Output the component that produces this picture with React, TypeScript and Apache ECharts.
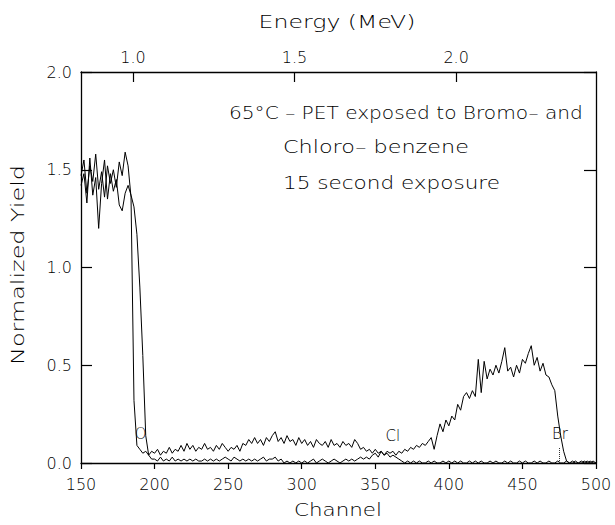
import React, { useEffect, useRef } from "react";
import * as echarts from "echarts";

// ---- data ----
const CHANNEL_START = 150;
const CHANNEL_STEP = 2;

// Upper spectrum (shows Cl and Br signals), channels 150..500 step 2
const yieldUpper = [
  1.47, 1.55, 1.38, 1.52, 1.44, 1.58, 1.40, 1.49, 1.36, 1.52,
  1.43, 1.50, 1.41, 1.54, 1.47, 1.59, 1.52, 1.36, 0.32, 0.09,
  0.07, 0.05, 0.06, 0.04, 0.06, 0.05, 0.07, 0.04, 0.06, 0.05,
  0.08, 0.05, 0.07, 0.06, 0.09, 0.06, 0.10, 0.07, 0.09, 0.06,
  0.08, 0.07, 0.10, 0.07, 0.08, 0.06, 0.09, 0.07, 0.10, 0.08,
  0.06, 0.08, 0.07, 0.09, 0.06, 0.10, 0.09, 0.12, 0.10, 0.13,
  0.10, 0.12, 0.09, 0.13, 0.11, 0.14, 0.16, 0.11, 0.13, 0.10,
  0.14, 0.11, 0.12, 0.09, 0.13, 0.10, 0.12, 0.09, 0.11, 0.08,
  0.12, 0.10, 0.09, 0.11, 0.08, 0.12, 0.09, 0.10, 0.08, 0.11,
  0.09, 0.10, 0.08, 0.12, 0.10, 0.07, 0.08, 0.06, 0.07, 0.05,
  0.07, 0.05, 0.06, 0.04, 0.06, 0.05, 0.06, 0.04, 0.06, 0.05,
  0.07, 0.06, 0.08, 0.07, 0.09, 0.08, 0.10, 0.09, 0.11, 0.13,
  0.07, 0.14, 0.20, 0.16, 0.22, 0.19, 0.24, 0.22, 0.30, 0.27,
  0.34, 0.36, 0.33, 0.37, 0.34, 0.53, 0.36, 0.52, 0.43, 0.48,
  0.45, 0.50, 0.46, 0.52, 0.59, 0.47, 0.49, 0.44, 0.50, 0.46,
  0.53, 0.51, 0.56, 0.60, 0.50, 0.54, 0.47, 0.51, 0.45, 0.44,
  0.40, 0.37, 0.24, 0.14, 0.06, 0.01, 0.00, 0.01, 0.00, 0.00,
  0.01, 0.00, 0.01, 0.00, 0.01, 0.00,
];

// Lower spectrum, channels 150..500 step 2
const yieldLower = [
  1.42, 1.48, 1.33, 1.56, 1.37, 1.46, 1.20, 1.43, 1.55, 1.35,
  1.48, 1.39, 1.45, 1.32, 1.29, 1.38, 1.42, 1.37, 1.31, 1.17,
  0.90, 0.55, 0.14, 0.04, 0.02, 0.02, 0.01, 0.03, 0.01, 0.02,
  0.01, 0.03, 0.01, 0.02, 0.01, 0.02, 0.01, 0.02, 0.01, 0.02,
  0.01, 0.01, 0.02, 0.01, 0.02, 0.01, 0.02, 0.01, 0.02, 0.03,
  0.02, 0.01, 0.03, 0.02, 0.01, 0.02, 0.01, 0.02, 0.01, 0.02,
  0.01, 0.02, 0.03, 0.01, 0.02, 0.02, 0.03, 0.01, 0.02, 0.00,
  0.01, 0.00, 0.01, 0.00, 0.01, 0.00, 0.01, 0.00, 0.01, 0.02,
  0.00, 0.01, 0.02, 0.01, 0.00, 0.01, 0.02, 0.01, 0.00, 0.01,
  0.02, 0.01, 0.02, 0.01, 0.02, 0.03, 0.02, 0.03, 0.02, 0.04,
  0.05, 0.03, 0.06, 0.04, 0.05, 0.03, 0.04, 0.03, 0.02, 0.01,
  0.00, 0.01, 0.00, 0.01, 0.00, 0.01, 0.00, 0.00, 0.01, 0.00,
  0.01, 0.00, 0.00, 0.01, 0.00, 0.01, 0.00, 0.01, 0.00, 0.01,
  0.00, 0.00, 0.01, 0.00, 0.01, 0.00, 0.01, 0.00, 0.00, 0.01,
  0.00, 0.01, 0.00, 0.00, 0.01, 0.00, 0.01, 0.00, 0.00, 0.01,
  0.00, 0.01, 0.00, 0.00, 0.01, 0.00, 0.01, 0.00, 0.00, 0.01,
  0.00, 0.00, 0.01, 0.00, 0.00, 0.01, 0.00, 0.00, 0.01, 0.00,
  0.00, 0.01, 0.00, 0.01, 0.00, 0.00,
];

const CHANNEL_MIN = 150;
const CHANNEL_MAX = 500;
const YIELD_MIN = 0;
const YIELD_MAX = 2;
const ENERGY_MIN = 0.839;
const ENERGY_MAX = 2.433;
const energyTicks = [1.0, 1.5, 2.0];

const peakLabels = [
  { name: "O", channel: 190.6, y: 0.15 },
  { name: "Cl", channel: 362, y: 0.14 },
  { name: "Br", channel: 475.5, y: 0.15 },
];
const brEdgeChannel = 475;
const brEdgeTop = 0.08;

const titleLines = [
  "65°C – PET exposed to Bromo– and",
  "Chloro– benzene",
  "15 second exposure",
];

const FONT = '"DejaVu Sans", "Liberation Sans", sans-serif';
const WEIGHT = 300;
const INK = "#000";

function stretchFor(text: string, size: number, target: number): number {
  const ctx = document.createElement("canvas").getContext("2d");
  if (!ctx) return 1;
  ctx.font = `${WEIGHT} ${size}px "DejaVu Sans"`;
  const w = ctx.measureText(text).width;
  return w > 0 ? target / w : 1;
}

export default function App() {
  const ref = useRef<HTMLDivElement>(null);

  useEffect(() => {
    if (!ref.current) return;
    const chart = echarts.init(ref.current, null, { renderer: "svg" });

    const toPairs = (arr: number[]) =>
      arr.map((v, i) => [CHANNEL_START + i * CHANNEL_STEP, v]);

    const txt = (
      text: string,
      x: number,
      y: number,
      size: number,
      target: number,
      align: string,
      rotation = 0
    ) => ({
      type: "text",
      x,
      y,
      rotation,
      scaleX: stretchFor(text, size, target),
      silent: true,
      style: {
        text,
        fontSize: size,
        fontFamily: FONT,
        fontWeight: WEIGHT,
        fill: INK,
        align,
        verticalAlign: "middle",
      },
    });

    const axisLineStyle = { color: INK, width: 1.3 };
    const tickStyle = { color: INK, width: 1.2 };
    const labelStyle = { fontSize: 16, fontFamily: FONT, fontWeight: WEIGHT, color: INK };

    const option: any = {
      animation: false,
      backgroundColor: "#ffffff",
      grid: { left: 81, right: 19, top: 72, bottom: 62, containLabel: false },
      xAxis: [
        {
          type: "value",
          position: "bottom",
          min: CHANNEL_MIN,
          max: CHANNEL_MAX,
          interval: 50,
          axisLine: { show: true, onZero: false, lineStyle: axisLineStyle },
          axisTick: { show: true, inside: false, length: 6, lineStyle: tickStyle },
          axisLabel: { ...labelStyle, margin: 13, showMinLabel: true, showMaxLabel: true },
          splitLine: { show: false },
        },
        {
          type: "value",
          position: "top",
          min: ENERGY_MIN,
          max: ENERGY_MAX,
          axisLine: { show: true, onZero: false, lineStyle: axisLineStyle },
          axisTick: {
            show: true,
            inside: true,
            length: 10,
            lineStyle: tickStyle,
            customValues: energyTicks,
          },
          axisLabel: {
            ...labelStyle,
            margin: 7,
            customValues: energyTicks,
            formatter: (v: number) => v.toFixed(1),
          },
          splitLine: { show: false },
        },
      ],
      yAxis: [
        {
          type: "value",
          position: "left",
          min: YIELD_MIN,
          max: YIELD_MAX,
          interval: 0.5,
          axisLine: { show: true, onZero: false, lineStyle: axisLineStyle },
          axisTick: { show: true, inside: true, length: 11, lineStyle: tickStyle },
          axisLabel: {
            ...labelStyle,
            margin: 9,
            formatter: (v: number) => v.toFixed(1),
          },
          splitLine: { show: false },
        },
        {
          type: "value",
          position: "right",
          min: YIELD_MIN,
          max: YIELD_MAX,
          interval: 0.5,
          axisLine: { show: true, onZero: false, lineStyle: axisLineStyle },
          axisTick: { show: true, inside: true, length: 12, lineStyle: tickStyle },
          axisLabel: { show: false },
          splitLine: { show: false },
        },
      ],
      series: [
        {
          name: "Upper spectrum",
          type: "line",
          xAxisIndex: 0,
          yAxisIndex: 0,
          data: toPairs(yieldUpper),
          showSymbol: false,
          symbol: "none",
          lineStyle: { color: INK, width: 1 },
          z: 3,
          markPoint: {
            symbol: "rect",
            symbolSize: 1,
            itemStyle: { color: "rgba(0,0,0,0)" },
            label: {
              show: true,
              position: "inside",
              formatter: (p: any) => p.name,
              fontSize: 15,
              fontFamily: FONT,
              fontWeight: WEIGHT,
              color: INK,
            },
            data: peakLabels.map((p) => ({ name: p.name, coord: [p.channel, p.y] })),
          },
          markLine: {
            silent: true,
            symbol: ["none", "none"],
            label: { show: false },
            lineStyle: { type: "dotted", color: "#333", width: 1 },
            data: [
              [
                { coord: [brEdgeChannel, 0] },
                { coord: [brEdgeChannel, brEdgeTop] },
              ],
            ],
          },
        },
        {
          name: "Lower spectrum",
          type: "line",
          xAxisIndex: 0,
          yAxisIndex: 0,
          data: toPairs(yieldLower),
          showSymbol: false,
          symbol: "none",
          lineStyle: { color: INK, width: 1 },
          z: 3,
        },
      ],
      graphic: [
        txt("Energy (MeV)", 337, 22, 17, 157, "center"),
        txt("Channel", 338, 510, 17, 88, "center"),
        txt("Normalized Yield", 18, 265, 17, 200, "center", Math.PI / 2),
        txt(titleLines[0], 229, 113, 17, 354, "left"),
        txt(titleLines[1], 283, 147, 17, 186, "left"),
        txt(titleLines[2], 283, 183, 17, 217, "left"),
      ],
    };

    chart.setOption(option);
    return () => chart.dispose();
  }, []);

  return (
    <div
      ref={ref}
      style={{
        position: "fixed",
        left: 0,
        top: 0,
        width: 615,
        height: 525,
        background: "#fff",
      }}
    />
  );
}
